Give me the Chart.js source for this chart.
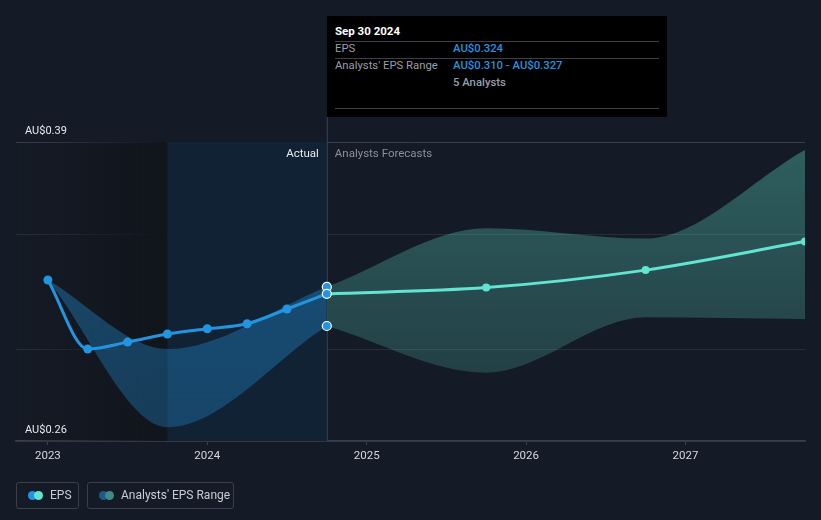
<!DOCTYPE html>
<html>
<head>
<meta charset="utf-8">
<script src="https://cdn.jsdelivr.net/npm/chart.js@4.4.1/dist/chart.umd.min.js"></script>
<style>
  html,body{margin:0;padding:0;background:#151b26;font-family:Roboto,"Noto Sans",sans-serif;}
  #wrap{position:relative;width:821px;height:520px;overflow:hidden;}
  canvas{position:absolute;left:0;top:0;}
  #tip{position:absolute;left:327px;top:16px;width:340px;height:101px;background:#000;color:#fff;font-size:11.3px;line-height:14px;}
  #tip .t{position:absolute;left:8px;top:8px;font-weight:bold;font-size:11.5px;line-height:14px;color:#fff;}
  #tip .hr{position:absolute;left:8px;width:324px;height:1px;background:#3c3f45;}
  #tip .l{position:absolute;left:8px;color:#9a9ea6;}
  #tip .v{position:absolute;left:126px;color:#2394df;font-weight:500;}
  #tip .g{position:absolute;left:126px;color:#9a9ea6;font-weight:500;}
  .leg{position:absolute;top:482px;height:27px;border:1px solid #3a404b;border-radius:3px;box-sizing:border-box;color:#c9cdd3;font-size:12px;line-height:25px;}
  .leg .i{position:absolute;top:8px;width:9px;height:9px;border-radius:50%;}
</style>
</head>
<body>
<div id="wrap">
  <canvas id="c" width="821" height="520"></canvas>
  <div id="tip">
    <div class="t">Sep 30 2024</div>
    <div class="hr" style="top:25px"></div>
    <div class="l" style="top:26px">EPS</div>
    <div class="v" style="top:26px">AU$0.324</div>
    <div class="hr" style="top:42px"></div>
    <div class="l" style="top:43px">Analysts' EPS Range</div>
    <div class="v" style="top:43px">AU$0.310 - AU$0.327</div>
    <div class="g" style="top:60px">5 Analysts</div>
    <div class="hr" style="top:92px"></div>
  </div>
  <div class="leg" style="left:16px;width:63px;">
    <span class="i" style="left:11px;background:#2394df"></span>
    <span class="i" style="left:17px;background:#62e4d0"></span>
    <span style="position:absolute;left:33px;">EPS</span>
  </div>
  <div class="leg" style="left:87px;width:147px;">
    <span class="i" style="left:11px;background:#1f5a86"></span>
    <span class="i" style="left:17px;background:#3f8a86"></span>
    <span style="position:absolute;left:33px;">Analysts' EPS Range</span>
  </div>
</div>
<script>
// ---- data ----
const pastX      = [2023.0, 2023.25, 2023.5, 2023.75, 2024.0, 2024.25, 2024.5, 2024.75];
const pastEPS    = [0.330, 0.300, 0.303, 0.3065, 0.3088, 0.311, 0.3174, 0.324];
const pastRangeX = [2023.0, 2023.75, 2024.75];
const pastHigh   = [0.330, 0.300, 0.327];
const pastLow    = [0.330, 0.266, 0.310];
const fcX        = [2024.75, 2025.75, 2026.75, 2027.75];
const fcEPS      = [0.324, 0.3267, 0.3343, 0.3467];
const fcHigh     = [0.327, 0.3525, 0.348, 0.3865];
const fcLow      = [0.310, 0.2897, 0.3138, 0.313];
const yTicks     = [0.26, 0.30, 0.35, 0.39];
const yLabelled  = {0.26: 'AU$0.26', 0.39: 'AU$0.39'};
const xTicks     = [2023, 2024, 2025, 2026, 2027];
const nowX       = 2024.75;
const actualStart = 2023.75;
const markerVals = [0.327, 0.324, 0.310];

const pts = (xs, ys) => xs.map((x, i) => ({x, y: ys[i]}));

const bgPlugin = {
  id: 'bg',
  beforeDatasetsDraw(chart) {
    const {ctx, chartArea: a, scales: {x}} = chart;
    const xs = x.getPixelForValue(actualStart), xn = x.getPixelForValue(nowX);
    ctx.save();
    const g = ctx.createLinearGradient(a.left, 0, xs, 0);
    g.addColorStop(0, 'rgba(17,21,28,0)');
    g.addColorStop(1, 'rgba(17,21,28,1)');
    ctx.fillStyle = g;
    ctx.fillRect(a.left, a.top, xs - a.left, a.bottom - a.top);
    ctx.fillStyle = '#112234';
    ctx.fillRect(xs, a.top, xn - xs, a.bottom - a.top);
    ctx.restore();
  },
  afterDatasetsDraw(chart) {
    const {ctx, chartArea: a, scales: {x, y}} = chart;
    const xn = x.getPixelForValue(nowX);
    ctx.save();
    ctx.strokeStyle = '#2b4660';
    ctx.lineWidth = 1;
    ctx.beginPath();
    ctx.moveTo(xn + 0.5, 117);
    ctx.lineTo(xn + 0.5, a.bottom);
    ctx.stroke();
    // markers
    markerVals.forEach(v => {
      ctx.beginPath();
      ctx.arc(xn, y.getPixelForValue(v), 4.5, 0, Math.PI * 2);
      ctx.fillStyle = '#2394df';
      ctx.fill();
      ctx.strokeStyle = '#ffffff';
      ctx.lineWidth = 1.2;
      ctx.stroke();
    });
    ctx.font = '11.5px Roboto';
    ctx.textBaseline = 'middle';
    ctx.textAlign = 'right';
    ctx.fillStyle = '#e8eaed';
    ctx.fillText('Actual', xn - 8, a.top + 12);
    ctx.textAlign = 'left';
    ctx.fillStyle = '#8a8f98';
    ctx.fillText('Analysts Forecasts', xn + 8, a.top + 12);
    // y labels
    ctx.font = '11px Roboto';
    ctx.fillStyle = '#e6e8eb';
    ctx.textBaseline = 'alphabetic';
    Object.keys(yLabelled).forEach(k => {
      ctx.fillText(yLabelled[k], 25, y.getPixelForValue(+k) - 8);
    });
    ctx.restore();
  }
};

const ctx = document.getElementById('c').getContext('2d');
const fcGrad = ctx.createLinearGradient(0, 142, 0, 441);
fcGrad.addColorStop(0, 'rgba(98,228,208,0.34)');
fcGrad.addColorStop(1, 'rgba(98,228,208,0.14)');
const pastGrad = ctx.createLinearGradient(0, 142, 0, 441);
pastGrad.addColorStop(0, 'rgba(35,148,223,0.42)');
pastGrad.addColorStop(1, 'rgba(35,148,223,0.30)');

new Chart(ctx, {
  type: 'line',
  data: {
    datasets: [
      { data: pts(pastX, pastEPS), borderColor: '#2394df', backgroundColor: '#2394df', borderWidth: 3,
        pointRadius: 4.5, pointBorderWidth: 0, cubicInterpolationMode: 'monotone', fill: false, order: 0 },
      { data: pts(fcX, fcEPS), borderColor: '#62e4d0', backgroundColor: '#62e4d0', borderWidth: 3,
        pointRadius: [0, 4, 4, 4], pointBorderWidth: 0, cubicInterpolationMode: 'monotone', fill: false, order: 1 },
      { data: pts(pastRangeX, pastHigh), borderWidth: 0, pointRadius: 0, cubicInterpolationMode: 'monotone',
        fill: '+1', backgroundColor: pastGrad, order: 3 },
      { data: pts(pastRangeX, pastLow), borderWidth: 0, pointRadius: 0, cubicInterpolationMode: 'monotone',
        fill: false, order: 3 },
      { data: pts(fcX, fcHigh), borderWidth: 0, pointRadius: 0, cubicInterpolationMode: 'monotone',
        fill: '+1', backgroundColor: fcGrad, order: 4 },
      { data: pts(fcX, fcLow), borderWidth: 0, pointRadius: 0, cubicInterpolationMode: 'monotone',
        fill: false, order: 4 }
    ]
  },
  options: {
    responsive: false,
    animation: false,
    events: [],
    layout: { padding: { left: 16, right: 16, top: 142, bottom: 0 } },
    plugins: { legend: { display: false }, tooltip: { enabled: false } },
    scales: {
      x: {
        type: 'linear', min: 2022.8, max: 2027.75,
        afterBuildTicks: s => { s.ticks = xTicks.map(v => ({value: v})); },
        afterFit: s => { s.height = 79; },
        ticks: { color: '#d5d8dd', font: { family: 'Roboto', size: 11.5 }, padding: 4, callback: v => String(v), maxRotation: 0 },
        grid: { drawOnChartArea: false, drawTicks: true, tickLength: 4, color: '#3a404b' },
        border: { color: '#3a404b', width: 1.5 }
      },
      y: {
        min: 0.26, max: 0.39,
        afterBuildTicks: s => { s.ticks = yTicks.map(v => ({value: v})); },
        afterFit: s => { s.width = 0; },
        ticks: { display: false },
        grid: { drawTicks: false, color: c => (c.tick && c.tick.value === 0.39) ? '#3a404b' : '#272e39', lineWidth: 1 },
        border: { display: false }
      }
    }
  },
  plugins: [bgPlugin]
});
</script>
</body>
</html>
